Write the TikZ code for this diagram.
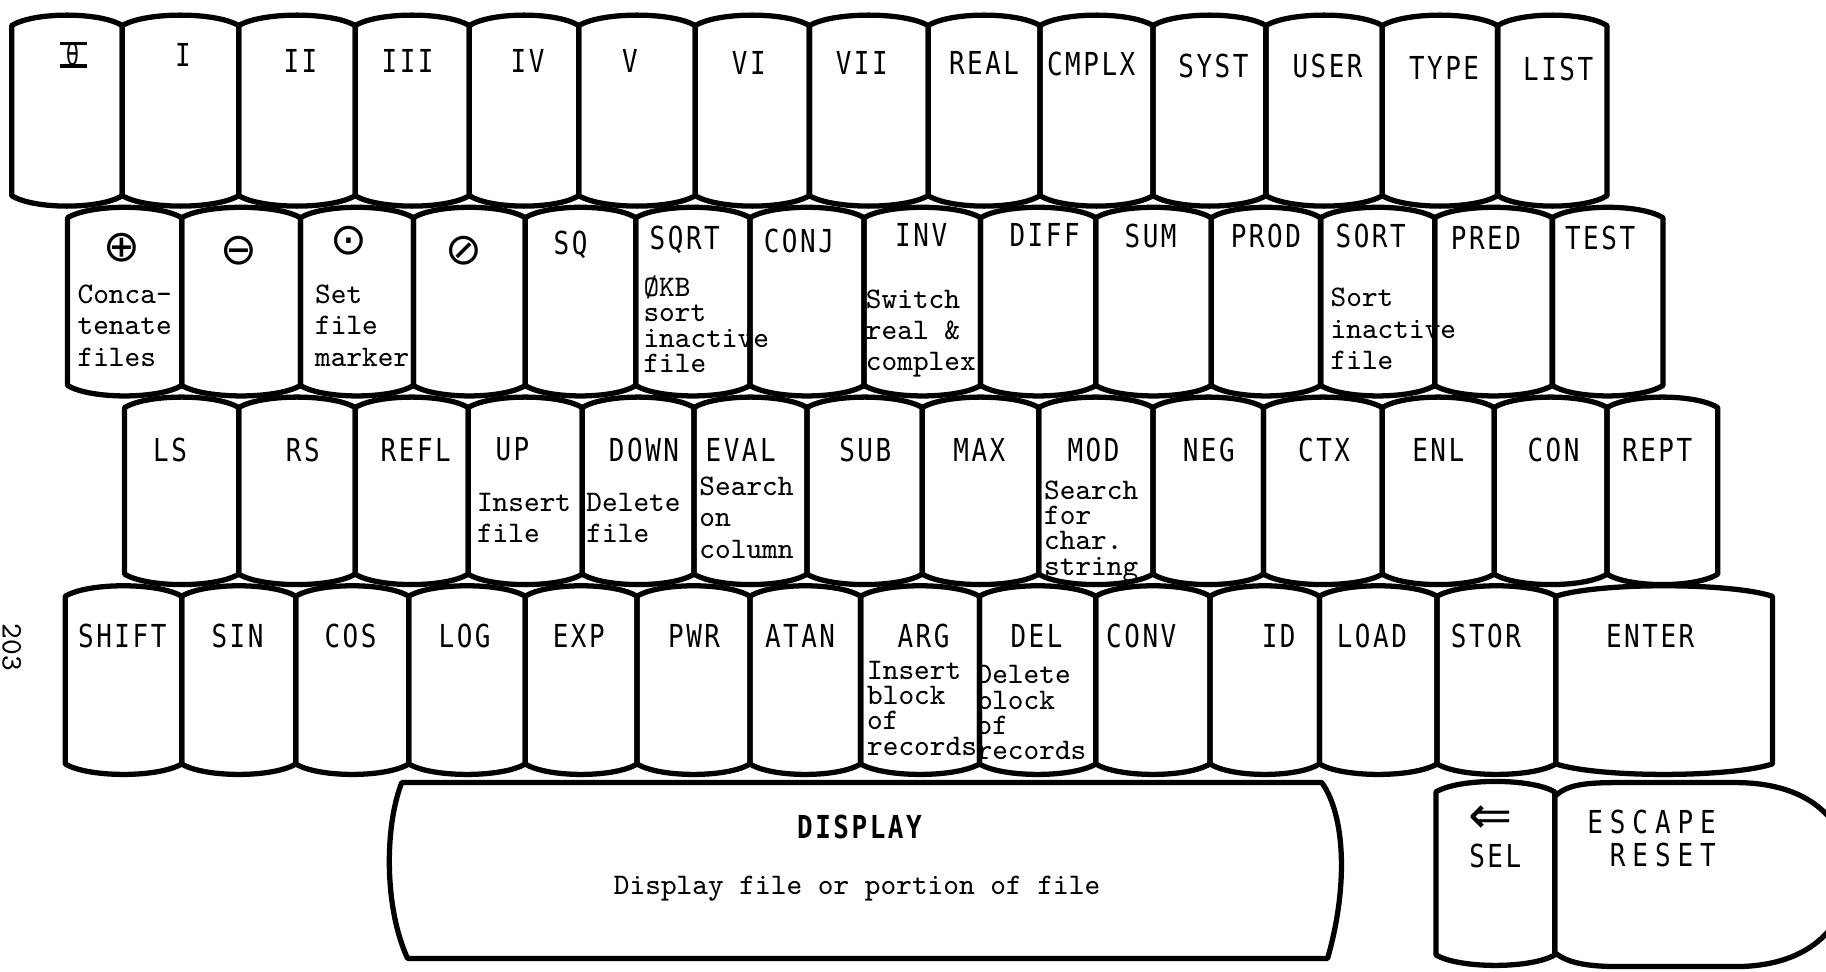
\documentclass[tikz,border=0pt]{standalone}
\usepackage{fontspec}
\newfontfamily\keyfont[FakeStretch=0.82,LetterSpace=8]{DejaVu Sans Mono}
\newfontfamily\symfont{DejaVu Sans}

\tikzset{
  keyline/.style={line width=1.5pt,line join=round},
  lab/.style={font=\keyfont\fontsize{9}{9}\selectfont,inner sep=0pt},
  sym/.style={font=\symfont\fontsize{12.5}{12.5}\selectfont,inner sep=0pt},
  note/.style={font=\ttfamily\fontsize{8.5}{8.9}\selectfont,align=left,anchor=north west,inner sep=0pt},
  tight/.style={note,font=\ttfamily\fontsize{8.5}{7.2}\selectfont},
}

\newcommand\keycap[4]{%
  \pgfmathsetmacro\kl{#1+0.2*(#2-#1)}%
  \pgfmathsetmacro\kr{#2-0.2*(#2-#1)}%
  \draw[keyline] (#1,#3) .. controls (\kl,#3-12) and (\kr,#3-12) .. (#2,#3)
    -- (#2,#4) .. controls (\kr,#4+12) and (\kl,#4+12) .. (#1,#4) -- cycle;}

\begin{document}
\begin{tikzpicture}[x=0.01165cm,y=-0.01165cm]
\useasboundingbox (0,0) rectangle (1568,834);
\fill[white] (0,0) rectangle (1568,834);
\clip (0,0) rectangle (1568,834);

\foreach \a/\b in {10/105,105/205,205/305,305/403,403/497,497/597,597/695,695/797,797/893,893/990,990/1087,1087/1187,1187/1286,1286/1380}
  {\keycap{\a}{\b}{22}{168}}
\foreach \a/\b in {58/156,156/258,258/355,355/451,451/546,546/644,644/742,742/842,842/941,941/1040,1040/1134,1134/1232,1232/1333,1333/1428}
  {\keycap{\a}{\b}{187}{331}}
\foreach \a/\b in {107/205,205/305,305/402,402/500,500/596,596/693,693/792,792/892,892/990,990/1085,1085/1187,1187/1283,1283/1380,1380/1475}
  {\keycap{\a}{\b}{350}{493}}
\foreach \a/\b in {56/156,156/254,254/351,351/451,451/547,547/644,644/739,739/841,841/941,941/1039,1039/1133,1133/1234,1234/1336,1336/1522}
  {\keycap{\a}{\b}{512}{656}}
\keycap{1233}{1335}{680}{820}
\draw[keyline] (345,672) -- (1135,672) .. controls (1155,700) and (1158,760) .. (1140,823)
  -- (350,823) .. controls (330,780) and (330,710) .. (345,672) -- cycle;
\draw[keyline] (1335,684) .. controls (1345,674) and (1360,672) .. (1390,672) -- (1490,672)
  .. controls (1550,672) and (1585,700) .. (1590,750) .. controls (1585,800) and (1550,830) .. (1490,830)
  -- (1390,830) .. controls (1360,830) and (1345,826) .. (1335,818) -- cycle;

\node[lab] (r1k0) at (63,47) {\makebox[0pt]{\rule{7.5pt}{0.9pt}}\makebox[0pt]{\rule[6.4pt]{7.5pt}{0.9pt}}\makebox[0pt]{\raisebox{0.6pt}{\symfont\fontsize{8.5}{8.5}\selectfont\scalebox{0.7}[1]{θ}}}};
\foreach \t/\x/\y [count=\i] in {I/157/47,II/258/52,III/350/52,IV/453/52,V/541/52,VI/643/54,VII/740/54,REAL/845/54,CMPLX/937/55,SYST/1042/57,USER/1140/57,TYPE/1240/58,LIST/1338/59}
  \node[lab] (r1k\i) at (\x,\y) {\t};

\node[sym] (r2s1) at (105,213) {⊕};
\node[sym] (r2s2) at (205,215) {⊖};
\node[sym] (r2s3) at (300,207) {⊙};
\node[sym] (r2s4) at (398,215) {⊘};
\foreach \t/\x/\y [count=\i] in {SQ/490/210,SQRT/588/206,CONJ/686/207,INV/791/202,DIFF/897/202,SUM/988/203,PROD/1087/203,SORT/1177/203,PRED/1276/204,TEST/1374/204}
  \node[lab] (r2k\i) at (\x,\y) {\t};

\foreach \t/\x [count=\i] in {LS/146,RS/260,REFL/357,UP/440,DOWN/553,EVAL/636,SUB/743,MAX/841,MOD/939,NEG/1038,CTX/1137,ENL/1235,CON/1334,REPT/1423}
  \node[lab] (r3k\i) at (\x,386) {\t};

\foreach \t/\x [count=\i] in {SHIFT/105,SIN/204,COS/301,LOG/399,EXP/497,PWR/596,ATAN/687,ARG/793,DEL/890,CONV/980,ID/1098,LOAD/1178,STOR/1276,ENTER/1417}
  \node[lab] (r4k\i) at (\x,546) {\t};

\node[note] (cat) at (66,244) {Conca-\\tenate\\files};
\node[note] (mark) at (270,244) {Set\\file\\marker};
\node[tight] (okb) at (552,236) {ØKB\\sort\\inactive\\file};
\node[note] (swap) at (743,248) {Switch\\real \&\\complex};
\node[note] (srt) at (1142,247) {Sort\\inactive\\file};
\node[note] (ins) at (409,423) {Insert\\file};
\node[note] (dlt) at (503,423) {Delete\\file};
\node[note] (col) at (600,409) {Search\\on\\column};
\node[tight] (chr) at (896,412) {Search\\for\\char.\\string};
\node[tight] (insb) at (744,567) {Insert\\block\\of\\records};
\node[tight] (delb) at (838,571) {Delete\\block\\of\\records};

\node[lab,font=\keyfont\bfseries\fontsize{9}{9}\selectfont] (disp) at (738,710) {DISPLAY};
\node[note,anchor=center] (dispn) at (736,763) {Display file or portion of file};
\node[sym,font=\symfont\fontsize{15}{15}\selectfont] (arr) at (1280,704) {⇐};
\node[lab] (sel) at (1284,735) {SEL};
\node[lab,anchor=east,font=\keyfont\addfontfeature{LetterSpace=22}\fontsize{9}{9}\selectfont] (esc) at (1474,706) {ESCAPE};
\node[lab,anchor=east,font=\keyfont\addfontfeature{LetterSpace=22}\fontsize{9}{9}\selectfont] (rst) at (1474,734) {RESET};

\node[rotate=-90,inner sep=0pt,font=\ttfamily\fontsize{8.5}{8.5}\selectfont] (pg) at (10,556) {203};
\end{tikzpicture}
\end{document}
